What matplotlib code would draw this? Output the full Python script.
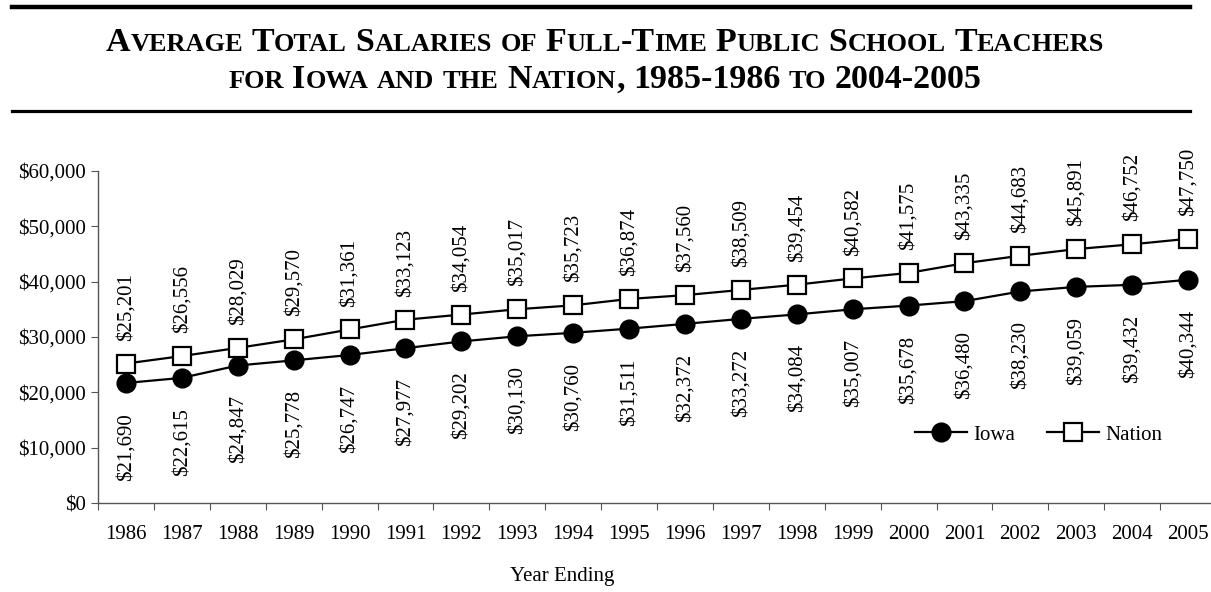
import matplotlib
matplotlib.use('Agg')
import matplotlib.pyplot as plt
from matplotlib.ticker import FuncFormatter, FixedLocator
from matplotlib.lines import Line2D

## Data
years = ['1986', '1987', '1988', '1989', '1990', '1991', '1992', '1993', '1994', '1995',
         '1996', '1997', '1998', '1999', '2000', '2001', '2002', '2003', '2004', '2005']
iowa = [21690, 22615, 24847, 25778, 26747, 27977, 29202, 30130, 30760, 31511,
        32372, 33272, 34084, 35007, 35678, 36480, 38230, 39059, 39432, 40344]
nation = [25201, 26556, 28029, 29570, 31361, 33123, 34054, 35017, 35723, 36874,
          37560, 38509, 39454, 40582, 41575, 43335, 44683, 45891, 46752, 47750]
title_lines = ['Average Total Salaries of Full-Time Public School Teachers',
               'for Iowa and the Nation, 1985-1986 to 2004-2005']

plt.rcParams['font.family'] = ['Liberation Serif', 'DejaVu Serif']

W, H = 1211, 592
fig = plt.figure(figsize=(W / 100, H / 100), dpi=100)

## Plot area (extends a little past the right edge, like the original)
ax = fig.add_axes([98 / W, 89 / H, 1118 / W, 332 / H])
x = list(range(len(years)))
ax.plot(x, iowa, color='black', lw=1.6, marker='o', ms=13.5, mfc='black', mec='black', label='Iowa')
ax.plot(x, nation, color='black', lw=1.6, marker='s', ms=13, mfc='white', mec='black', mew=1.6, label='Nation')
ax.set_xlim(-0.5, len(years) - 0.5)
ax.set_ylim(0, 60000)

for s in ['top', 'right']:
    ax.spines[s].set_visible(False)
for s in ['left', 'bottom']:
    ax.spines[s].set_color('#555555')
    ax.spines[s].set_linewidth(1)

ax.yaxis.set_major_locator(FixedLocator(range(0, 60001, 10000)))
ax.yaxis.set_major_formatter(FuncFormatter(lambda v, p: '${:,.0f}'.format(v)))
ax.tick_params(axis='y', direction='out', length=5, color='#555555', labelsize=15, pad=4)

## category axis: ticks between categories, labels centred
ax.xaxis.set_major_locator(FixedLocator([i - 0.5 for i in range(len(years) + 1)]))
ax.xaxis.set_minor_locator(FixedLocator(x))
ax.set_xticklabels([], minor=False)
ax.set_xticklabels(years, minor=True)
ax.tick_params(axis='x', which='major', direction='out', length=5, color='#555555')
ax.tick_params(axis='x', which='minor', length=0, labelsize=15, pad=16)

## data labels
for i in x:
    ax.annotate('${:,}'.format(nation[i]), (i, nation[i]), xytext=(0, 16.5), textcoords='offset points',
                rotation=90, ha='center', va='bottom', fontsize=15)
    ax.annotate('${:,}'.format(iowa[i]), (i, iowa[i]), xytext=(0, -21.5), textcoords='offset points',
                rotation=90, ha='center', va='top', fontsize=15)

fig.text(562 / W, 1 - 576 / H, 'Year Ending', ha='center', va='center', fontsize=15)

## legend
handles = [Line2D([], [], color='black', lw=1.6, marker='o', ms=13.5, mfc='black'),
           Line2D([], [], color='black', lw=1.6, marker='s', ms=13, mfc='white', mew=1.6)]
fig.legend(handles, ['Iowa', 'Nation'], loc='center left', bbox_to_anchor=(905 / W, 1 - 435 / H),
           ncol=2, frameon=False, fontsize=15, handlelength=2.5, handletextpad=0.3,
           columnspacing=1.5, borderpad=0)

## title rules
fig.add_artist(Line2D([12 / W, 1190 / W], [1 - 7 / H, 1 - 7 / H], color='black', lw=3.2))
fig.add_artist(Line2D([12 / W, 1190 / W], [1 - 111 / H, 1 - 111 / H], color='black', lw=2.3))

## small-caps title built from pieces
renderer = fig.canvas.get_renderer()


def small_caps(line, baseline_px, big, small, centre_px=605):
    pieces = []
    words = line.split(' ')
    for wi, word in enumerate(words):
        groups = []
        for ch in word:
            kind = 'small' if ch.islower() else 'big'
            if groups and groups[-1][0] == kind:
                groups[-1][1] += ch
            else:
                groups.append([kind, ch])
        for kind, txt in groups:
            size = small if kind == 'small' else big
            t = fig.text(0, 1 - baseline_px / H, txt.upper(), fontsize=size, fontweight='bold',
                         va='baseline', ha='left')
            pieces.append((t, 0))
        if wi < len(words) - 1:
            pieces.append((None, big * 100 / 72 * 0.25))
    widths = []
    for t, gap in pieces:
        if t is None:
            widths.append(gap)
        else:
            widths.append(t.get_window_extent(renderer).width)
    xpos = centre_px - sum(widths) / 2
    for (t, gap), w in zip(pieces, widths):
        if t is not None:
            t.set_x(xpos / W)
        xpos += w


small_caps(title_lines[0], 51, 24.5, 19)
small_caps(title_lines[1], 88, 24.5, 19)

fig.savefig('out.png', dpi=100)
